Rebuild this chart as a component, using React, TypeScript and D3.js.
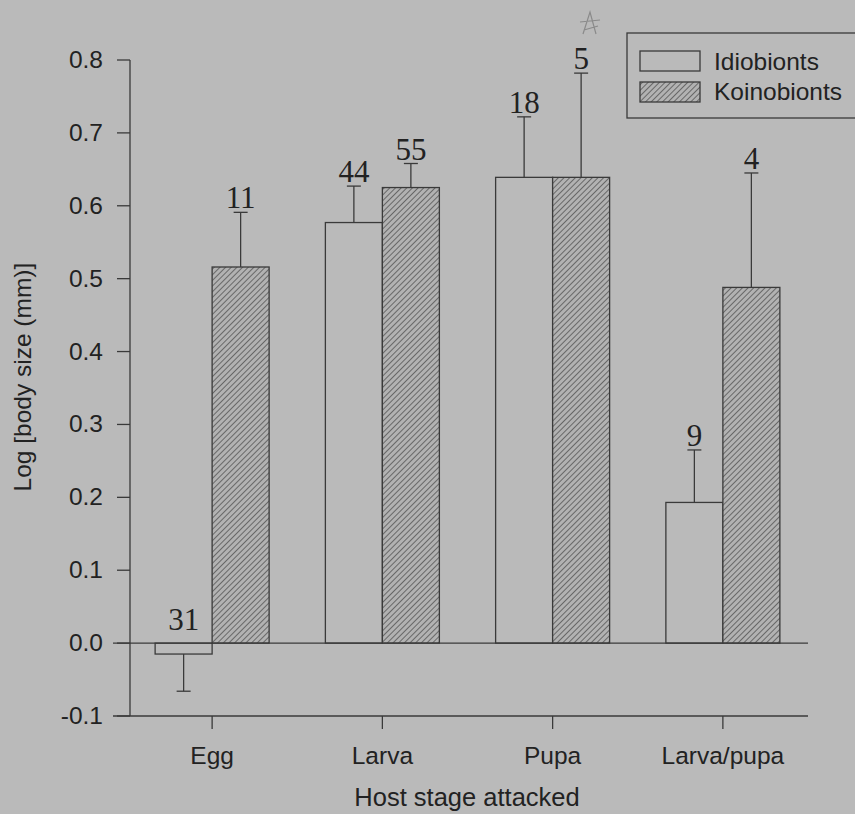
import React from "react";
import * as d3 from "d3";

const categories = ["Egg", "Larva", "Pupa", "Larva/pupa"];
const series = ["Idiobionts", "Koinobionts"];
const idioMeans = [-0.015, 0.577, 0.639, 0.193];
const idioSE = [0.051, 0.05, 0.083, 0.072];
const idioN = ["31", "44", "18", "9"];
const koinoMeans = [0.516, 0.625, 0.639, 0.488];
const koinoSE = [0.075, 0.033, 0.143, 0.157];
const koinoN = ["11", "55", "5", "4"];
const yTicks = [-0.1, 0, 0.1, 0.2, 0.3, 0.4, 0.5, 0.6, 0.7, 0.8];

const W = 855, H = 814;
const bg = "#bababa";
const ink = "#3a3a3a";

export default function App() {
  const y = d3.scaleLinear().domain([-0.1, 0.8]).range([716, 60]);
  const x = d3.scaleBand<string>().domain(categories).range([127, 808]).paddingInner(0).paddingOuter(0);
  const barW = 57;
  const cx = (c: string) => (x(c) as number) + x.bandwidth() / 2;
  const sans = "'Liberation Sans', Arial, sans-serif";
  const serif = "'Liberation Serif', 'Times New Roman', serif";
  const fmt = (t: number) => d3.format(".1f")(t).replace("\u2212", "-");
  const fs = 24.5;

  const bars = categories.flatMap((c, i) => [
    { c, s: 0, v: idioMeans[i], se: idioSE[i], n: idioN[i], x0: cx(c) - barW },
    { c, s: 1, v: koinoMeans[i], se: koinoSE[i], n: koinoN[i], x0: cx(c) },
  ]);

  return (
    <svg width={W} height={H} style={{ position: "absolute", left: 0, top: 0, display: "block", background: bg }}>
      <defs>
        <pattern id="hatch" patternUnits="userSpaceOnUse" width="4" height="4" patternTransform="rotate(45)">
          <rect width="4" height="4" fill="#b2b2b2" />
          <line x1="0" y1="0" x2="0" y2="4" stroke="#555" strokeWidth="1.6" />
        </pattern>
      </defs>
      <rect width={W} height={H} fill={bg} />
      {/* bars */}
      {bars.map((b, i) => {
        const top = y(Math.max(b.v, 0));
        const bot = y(Math.min(b.v, 0));
        const mid = b.x0 + barW / 2;
        const errEnd = b.v >= 0 ? y(b.v + b.se) : y(b.v - b.se);
        const barEdge = b.v >= 0 ? top : bot;
        const labelY = b.v >= 0 ? errEnd - 4 : y(0) - 13;
        return (
          <g key={i}>
            <rect x={b.x0} y={top} width={barW} height={bot - top}
              fill={b.s === 1 ? "url(#hatch)" : "none"} stroke={ink} strokeWidth={1.3} />
            <line x1={mid} x2={mid} y1={barEdge} y2={errEnd} stroke={ink} strokeWidth={1.3} />
            <line x1={mid - 7} x2={mid + 7} y1={errEnd} y2={errEnd} stroke={ink} strokeWidth={1.3} />
            <text x={mid} y={labelY} textAnchor="middle" fontFamily={serif} fontSize={31} fill="#222">{b.n}</text>
          </g>
        );
      })}
      {/* hand-drawn mark above the "5" */}
      <path d="M583,34 L590,12 L596,34 M580,22 L600,20 M584,30 L598,26" fill="none" stroke="#8a8a8a" strokeWidth={1.2} />
      {/* zero line */}
      <line x1={113} x2={808} y1={y(0)} y2={y(0)} stroke={ink} strokeWidth={1.3} />
      {/* y axis */}
      <line x1={130} x2={130} y1={y(0.8)} y2={y(-0.1)} stroke={ink} strokeWidth={1.3} />
      {yTicks.map((t) => (
        <g key={t}>
          <line x1={117} x2={130} y1={y(t)} y2={y(t)} stroke={ink} strokeWidth={1.3} />
          <text x={103} y={y(t) + 8} textAnchor="end" fontFamily={sans} fontSize={fs} fill="#222">{fmt(t)}</text>
        </g>
      ))}
      {/* x axis */}
      <line x1={113} x2={808} y1={y(-0.1)} y2={y(-0.1)} stroke={ink} strokeWidth={1.3} />
      {categories.map((c) => (
        <g key={c}>
          <line x1={cx(c)} x2={cx(c)} y1={y(-0.1)} y2={y(-0.1) + 13} stroke={ink} strokeWidth={1.3} />
          <text x={cx(c)} y={764} textAnchor="middle" fontFamily={sans} fontSize={fs} fill="#222">{c}</text>
        </g>
      ))}
      <text x={467} y={806} textAnchor="middle" fontFamily={sans} fontSize={25.5} fill="#222">Host stage attacked</text>
      <text transform={`translate(31,${y(0.365)}) rotate(-90)`} textAnchor="middle" fontFamily={sans} fontSize={fs} fill="#222">Log [body size (mm)]</text>
      {/* legend */}
      <rect x={627} y={33} width={240} height={85} fill="none" stroke={ink} strokeWidth={1.3} />
      {series.map((s, i) => (
        <g key={s}>
          <rect x={640} y={51 + i * 31} width={60} height={20} fill={i === 1 ? "url(#hatch)" : "none"} stroke={ink} strokeWidth={1.3} />
          <text x={714} y={70 + i * 30} fontFamily={sans} fontSize={fs} fill="#222">{s}</text>
        </g>
      ))}
    </svg>
  );
}
